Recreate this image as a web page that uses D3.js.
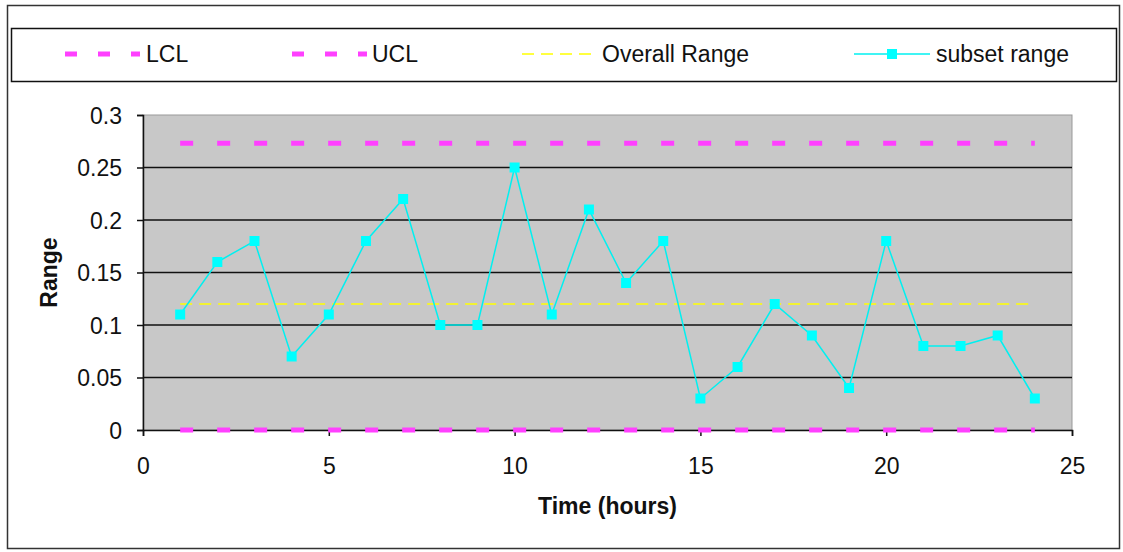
<!DOCTYPE html>
<html>
<head>
<meta charset="utf-8">
<script src="https://cdn.jsdelivr.net/npm/d3@7"></script>
<style>
  body { margin: 0; background: #fff; }
  text { font-family: "Liberation Sans", Arial, sans-serif; }
</style>
</head>
<body>
<svg id="chart" width="1123" height="552"></svg>
<script>

const hours = [1, 2, 3, 4, 5, 6, 7, 8, 9, 10, 11, 12, 13, 14, 15, 16, 17, 18, 19, 20, 21, 22, 23, 24];
const subsetRange = [0.11, 0.16, 0.18, 0.07, 0.11, 0.18, 0.22, 0.10, 0.10, 0.25, 0.11, 0.21,
    0.14, 0.18, 0.03, 0.06, 0.12, 0.09, 0.04, 0.18, 0.08, 0.08, 0.09, 0.03];
const lcl = 0;
const ucl = 0.273;
const overallRange = 0.12;
const xTicks = [0, 5, 10, 15, 20, 25];
const yTicks = [0, 0.05, 0.1, 0.15, 0.2, 0.25, 0.3];

const svg = d3.select("#chart");

const plot = { left: 143, right: 1072, top: 115, bottom: 430 };
const fontSize = 23;

const x = d3.scaleLinear().domain([0, 25]).range([plot.left, plot.right]);
const y = d3.scaleLinear().domain([0, 0.3]).range([plot.bottom, plot.top]);

// outer frame
svg.append("rect")
    .attr("x", 7.5).attr("y", 5.5)
    .attr("width", 1112).attr("height", 543)
    .attr("fill", "#fff")
    .attr("stroke", "#333")
    .attr("stroke-width", 1.5);

// plot background
svg.append("rect")
    .attr("x", plot.left).attr("y", plot.top)
    .attr("width", plot.right - plot.left)
    .attr("height", plot.bottom - plot.top)
    .attr("fill", "#c8c8c8")
    .attr("stroke", "#999")
    .attr("stroke-width", 1);

// gridlines
svg.append("g")
    .selectAll("line")
    .data(yTicks.slice(1, -1))
    .enter()
    .append("line")
    .attr("x1", plot.left).attr("x2", plot.right)
    .attr("y1", d => y(d)).attr("y2", d => y(d))
    .attr("stroke", "#111")
    .attr("stroke-width", 1.5);

// axes
const yAxis = svg.append("g")
    .attr("transform", `translate(${plot.left},0)`)
    .call(d3.axisLeft(y).tickValues(yTicks).tickFormat(d => String(+d.toFixed(2))).tickSize(6).tickPadding(15));

const xAxis = svg.append("g")
    .attr("transform", `translate(0,${plot.bottom})`)
    .call(d3.axisBottom(x).tickValues(xTicks).tickSize(6).tickPadding(22));

[yAxis, xAxis].forEach(ax => {
    ax.select(".domain").attr("stroke", "#111").attr("stroke-width", 1.5);
    ax.selectAll(".tick line").attr("stroke", "#111").attr("stroke-width", 1.5);
    ax.selectAll(".tick text")
        .attr("fill", "#111")
        .attr("font-size", fontSize)
        .style("font-family", "'Liberation Sans', Arial, sans-serif");
});
yAxis.selectAll(".tick text").attr("dy", "0.35em");

// reference lines
const xStart = x(hours[0]);
const xEnd = x(hours[hours.length - 1]);

const refLine = (val, color, width, dash) => {
    svg.append("line")
        .attr("x1", xStart).attr("x2", xEnd)
        .attr("y1", y(val)).attr("y2", y(val))
        .attr("stroke", color)
        .attr("stroke-width", width)
        .attr("stroke-dasharray", dash);
};

refLine(overallRange, "#ffff00", 1.5, "12 7");
refLine(ucl, "#ff40ff", 5, "13 24");
refLine(lcl, "#ff40ff", 5, "13 24");

// subset range series
const line = d3.line()
    .x((d, i) => x(hours[i]))
    .y(d => y(d));

svg.append("path")
    .datum(subsetRange)
    .attr("d", line)
    .attr("fill", "none")
    .attr("stroke", "#00f0f0")
    .attr("stroke-width", 1.5);

svg.append("g")
    .selectAll("rect")
    .data(subsetRange)
    .enter()
    .append("rect")
    .attr("x", (d, i) => x(hours[i]) - 5)
    .attr("y", d => y(d) - 5)
    .attr("width", 10)
    .attr("height", 10)
    .attr("fill", "#00ffff");

// axis titles
svg.append("text")
    .attr("x", (plot.left + plot.right) / 2)
    .attr("y", 514)
    .attr("text-anchor", "middle")
    .attr("font-size", fontSize)
    .attr("font-weight", "bold")
    .attr("fill", "#111")
    .text("Time (hours)");

svg.append("text")
    .attr("transform", `translate(57,${(plot.top + plot.bottom) / 2}) rotate(-90)`)
    .attr("text-anchor", "middle")
    .attr("font-size", fontSize)
    .attr("font-weight", "bold")
    .attr("fill", "#111")
    .text("Range");

// legend
const legend = svg.append("g");

legend.append("rect")
    .attr("x", 11.5).attr("y", 28.5)
    .attr("width", 1105).attr("height", 53)
    .attr("fill", "#fff")
    .attr("stroke", "#111")
    .attr("stroke-width", 1.5);

const legendY = 54;

const legendItems = [
    { label: "LCL", x1: 65, x2: 140, color: "#ff40ff", width: 5, dash: "12 21", marker: false, tx: 146 },
    { label: "UCL", x1: 292, x2: 367, color: "#ff40ff", width: 5, dash: "12 21", marker: false, tx: 372 },
    { label: "Overall Range", x1: 522, x2: 596, color: "#ffff00", width: 1.5, dash: "12 7", marker: false, tx: 602 },
    { label: "subset range", x1: 854, x2: 930, color: "#00f0f0", width: 1.5, dash: null, marker: true, tx: 936 }
];

legendItems.forEach(item => {
    legend.append("line")
        .attr("x1", item.x1).attr("x2", item.x2)
        .attr("y1", legendY).attr("y2", legendY)
        .attr("stroke", item.color)
        .attr("stroke-width", item.width)
        .attr("stroke-dasharray", item.dash);

    if (item.marker) {
        legend.append("rect")
            .attr("x", (item.x1 + item.x2) / 2 - 5)
            .attr("y", legendY - 5)
            .attr("width", 10).attr("height", 10)
            .attr("fill", "#00ffff");
    }

    legend.append("text")
        .attr("x", item.tx)
        .attr("y", legendY)
        .attr("dy", "0.35em")
        .attr("font-size", fontSize)
        .attr("fill", "#111")
        .text(item.label);
});
</script>
</body>
</html>
